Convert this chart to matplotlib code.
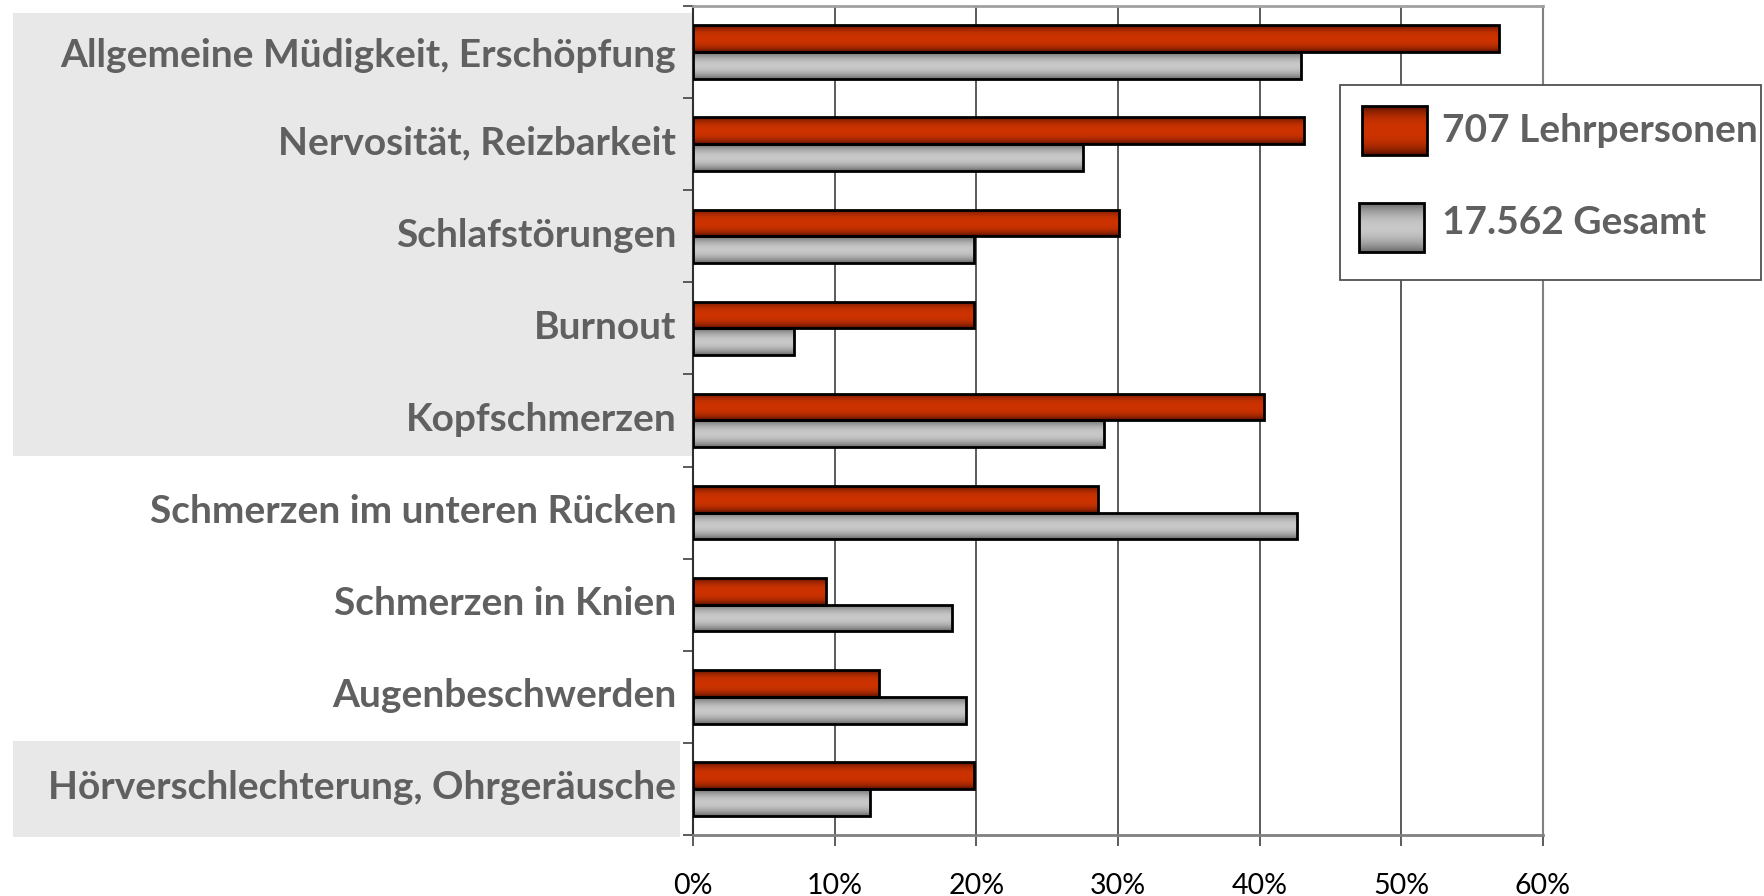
import numpy as np
import matplotlib
matplotlib.use("Agg")
import matplotlib.pyplot as plt
import matplotlib.transforms as mtransforms
from matplotlib.patches import Rectangle
from matplotlib.colors import to_rgb

categories = [
    "Allgemeine Müdigkeit, Erschöpfung",
    "Nervosität, Reizbarkeit",
    "Schlafstörungen",
    "Burnout",
    "Kopfschmerzen",
    "Schmerzen im unteren Rücken",
    "Schmerzen in Knien",
    "Augenbeschwerden",
    "Hörverschlechterung, Ohrgeräusche",
]
lehrpersonen = [56.9, 43.1, 30.1, 19.8, 40.3, 28.6, 9.4, 13.1, 19.8]
gesamt = [42.9, 27.5, 19.8, 7.1, 29.0, 42.6, 18.3, 19.3, 12.5]
series_labels = ["707 Lehrpersonen", "17.562 Gesamt"]
xticks = [0, 10, 20, 30, 40, 50, 60]
xticklabels = ["0%", "10%", "20%", "30%", "40%", "50%", "60%"]

W, H = 1764, 896
fig = plt.figure(figsize=(W / 100, H / 100), dpi=100)
fig.patch.set_facecolor("white")

LABEL_FONT = ["Lato", "DejaVu Sans"]
TICK_FONT = ["Lato", "DejaVu Sans"]


def fx(px):
    return px / W


def fy(py):
    return 1 - py / H

# gray background boxes behind label area
for (x0, y0, x1, y1) in [(13, 13, 692, 456), (13, 741, 680, 837)]:
    fig.add_artist(Rectangle((fx(x0), fy(y1)), fx(x1) - fx(x0), fy(y0) - fy(y1),
                             transform=fig.transFigure, facecolor="#e8e8e8",
                             edgecolor="none", zorder=-5))

ax_l, ax_r, ax_t, ax_b = 693, 1543, 6, 835
ax = fig.add_axes([fx(ax_l), fy(ax_b), fx(ax_r) - fx(ax_l), fy(ax_t) - fy(ax_b)])
ax.set_facecolor("white")


def gradient_img(dark, bright, n=64, power=2.2):
    t = np.linspace(0, 1, n)
    f = 1 - np.abs(2 * t - 1) ** power
    d = np.array(to_rgb(dark))
    b = np.array(to_rgb(bright))
    img = d[None, :] + (b - d)[None, :] * f[:, None]
    return img[:, None, :]

red_grad = gradient_img("#5a1200", "#cc3300", power=2.6)
gray_grad = gradient_img("#6a6a6a", "#c8c8c8", power=2.0)

y = np.arange(len(categories))
h = 0.29
bars_r = ax.barh(y - h / 2, lehrpersonen, height=h, facecolor="none",
                 edgecolor="black", linewidth=2, zorder=4)
bars_g = ax.barh(y + h / 2, gesamt, height=h, facecolor="none",
                 edgecolor="black", linewidth=2, zorder=4)

for bars, grad in [(bars_r, red_grad), (bars_g, gray_grad)]:
    for p in bars:
        x0, yb = p.get_x(), p.get_y()
        w, hh = p.get_width(), p.get_height()
        im = ax.imshow(grad, extent=[x0, x0 + w, yb + hh, yb], aspect="auto",
                       zorder=3, interpolation="bilinear")
        im.set_clip_path(p)

ax.set_xlim(0, 60)
ax.set_ylim(len(categories) - 0.5, -0.5)

ax.set_xticks(xticks)
ax.set_xticklabels(xticklabels, family=TICK_FONT, fontsize=20.5, color="black")
ax.tick_params(axis="x", direction="out", length=8, width=1.2, color="#404040", pad=19)
ax.xaxis.grid(True, color="#404040", linewidth=1.2, zorder=1)
ax.set_axisbelow(True)

ax.set_yticks(y)
ax.set_yticklabels(categories, fontsize=28, fontweight="bold", color="#606060",
                   family=LABEL_FONT)
ax.tick_params(axis="y", length=0, pad=12)
ax.set_yticks(np.arange(-0.5, len(categories), 1.0), minor=True)
ax.tick_params(axis="y", which="minor", length=7, width=1.2, color="#404040", direction="out")

# nudge category labels up slightly
shift = mtransforms.ScaledTranslation(0, 4 / 100, fig.dpi_scale_trans)
for i, lab in enumerate(ax.get_yticklabels()):
    if i > 0:
        lab.set_transform(lab.get_transform() + shift)

ax.spines["left"].set_color("#303030")
ax.spines["left"].set_linewidth(1.5)
ax.spines["bottom"].set_color("#808080")
ax.spines["bottom"].set_linewidth(2)
ax.spines["top"].set_color("#a0a0a0")
ax.spines["top"].set_linewidth(2)
ax.spines["right"].set_color("#808080")
ax.spines["right"].set_linewidth(1.5)

# legend drawn on an overlay in pixel coordinates
ov = fig.add_axes([0, 0, 1, 1], zorder=10)
ov.set_xlim(0, W)
ov.set_ylim(H, 0)
ov.axis("off")
ov.patch.set_alpha(0)
ov.add_patch(Rectangle((1340, 85), 421, 195, facecolor="white",
                       edgecolor="#505050", linewidth=1.3, zorder=1))
for (x0, y0, dy, grad, lab) in [(1362, 106, 25, red_grad, series_labels[0]),
                                (1359, 203, 20, gray_grad, series_labels[1])]:
    r = Rectangle((x0, y0), 65, 49, facecolor="none", edgecolor="black",
                  linewidth=2, zorder=3)
    ov.add_patch(r)
    im = ov.imshow(grad, extent=[x0, x0 + 65, y0 + 49, y0], aspect="auto",
                   zorder=2, interpolation="bilinear")
    im.set_clip_path(r)
    ov.text(1442, y0 + dy, lab, fontsize=28, fontweight="bold", color="#606060",
            va="center", ha="left", family=LABEL_FONT, zorder=4)
ov.set_xlim(0, W)
ov.set_ylim(H, 0)

fig.savefig("out.png", dpi=100)
